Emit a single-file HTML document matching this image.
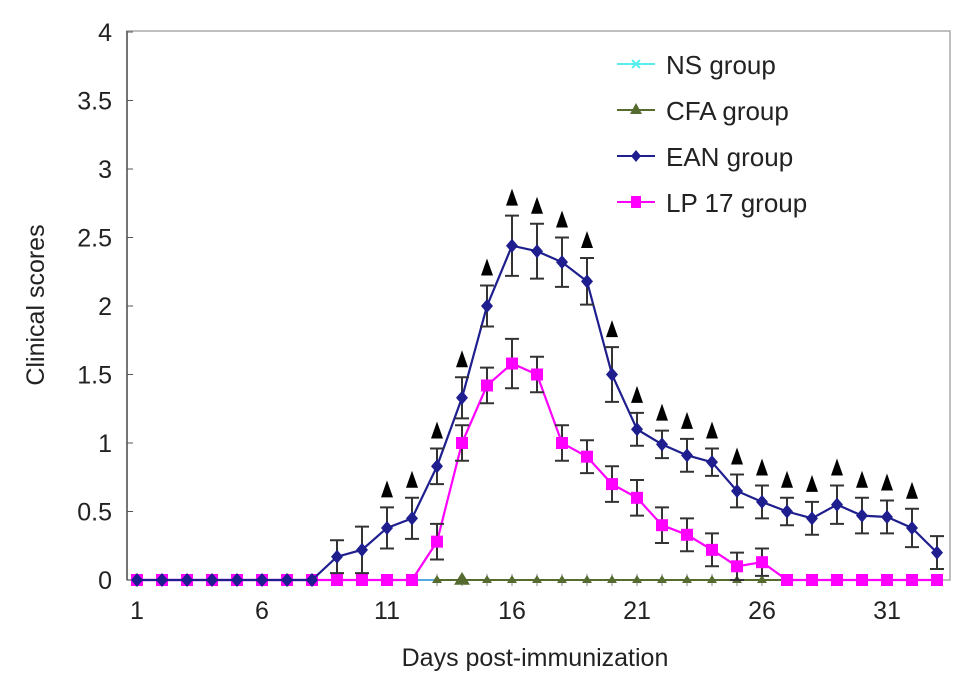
<!DOCTYPE html>
<html><head><meta charset="utf-8"><style>
body{margin:0;background:#fff}
svg{display:block;font-family:"Liberation Sans",Arial,sans-serif}
</style></head><body>
<svg id="chart" width="971" height="692" viewBox="0 0 971 692">
<g id="frame"></g><g id="marks"></g>
</svg>
<script>
const days=[1,2,3,4,5,6,7,8,9,10,11,12,13,14,15,16,17,18,19,20,21,22,23,24,25,26,27,28,29,30,31,32,33];
const eanVals=[0,0,0,0,0,0,0,0,0.17,0.22,0.38,0.45,0.83,1.33,2.0,2.44,2.4,2.32,2.18,1.5,1.1,0.99,0.91,0.86,0.65,0.57,0.5,0.45,0.55,0.47,0.46,0.38,0.2];
const eanErr=[0,0,0,0,0,0,0,0,0.12,0.17,0.15,0.15,0.13,0.15,0.15,0.22,0.2,0.18,0.17,0.2,0.12,0.1,0.12,0.1,0.12,0.12,0.1,0.12,0.14,0.13,0.12,0.14,0.12];
const lpVals=[0,0,0,0,0,0,0,0,0,0,0,0,0.28,1.0,1.42,1.58,1.5,1.0,0.9,0.7,0.6,0.4,0.33,0.22,0.1,0.13,0,0,0,0,0,0,0];
const lpErr=[0,0,0,0,0,0,0,0,0,0,0,0,0.13,0.13,0.13,0.18,0.13,0.13,0.12,0.13,0.13,0.13,0.12,0.12,0.1,0.1,0,0,0,0,0,0,0];
const sigDays=[11,12,13,14,15,16,17,18,19,20,21,22,23,24,25,26,27,28,29,30,31,32];
const yTicks=[0,0.5,1,1.5,2,2.5,3,3.5,4];
const xTicks=[1,6,11,16,21,26,31];
const xs=d=>137+(d-1)*25;
const ys=v=>580-v*137;
const NS="http://www.w3.org/2000/svg";
function mk(p,t,a){const e=document.createElementNS(NS,t);for(const k in a)e.setAttribute(k,a[k]);p.appendChild(e);return e;}
const F=document.getElementById('frame'),M=document.getElementById('marks');
let e;
e=mk(F,'rect',{x:127,y:31,width:823,height:549,fill:'none',stroke:'#aaa','stroke-width':1.5});

e=mk(F,'line',{x1:127,y1:31,x2:127,y2:580,stroke:'#555','stroke-width':1.5});

yTicks.forEach(t=>{
 e=mk(F,'line',{x1:127,x2:133,y1:ys(t),y2:ys(t),stroke:'#555'});
 
 e=mk(F,'text',{x:112,y:ys(t)+9,'text-anchor':'end','font-size':25,fill:'#222'});e.textContent=String(t);
 
});
days.forEach(d=>{e=mk(F,'line',{x1:xs(d),x2:xs(d),y1:574,y2:586,stroke:'#888'});
 });
xTicks.forEach(t=>{e=mk(F,'text',{x:xs(t),y:619,'text-anchor':'middle','font-size':25,fill:'#222'});e.textContent=String(t);
 });
e=mk(F,'text',{x:535,y:666,'text-anchor':'middle','font-size':25,fill:'#222'});e.textContent='Days post-immunization';

e=mk(F,'text',{x:0,y:0,'text-anchor':'middle','font-size':25,fill:'#222',transform:'translate(44,305) rotate(-90)'});e.textContent='Clinical scores';

e=mk(M,'line',{x1:xs(1),x2:xs(33),y1:580,y2:580,stroke:'#5ad','stroke-width':2});

e=mk(M,'line',{x1:xs(13),x2:xs(33),y1:580,y2:580,stroke:'#556b2f','stroke-width':2});

days.forEach(d=>{if(d>=13){const x=xs(d);const s=d==14?8:5;e=mk(M,'polygon',{points:`${x-s},${580+s*0.6} ${x+s},${580+s*0.6} ${x},${580-s}`,fill:'#556b2f'});
 }});
function series(vals,errs,col,name,marker){
 e=mk(M,'polyline',{points:days.map((d,i)=>xs(d)+','+ys(vals[i])).join(' '),fill:'none',stroke:col,'stroke-width':2.2});
 
 days.forEach((d,i)=>{const x=xs(d),y=ys(vals[i]);
  if(errs[i]>0){const a=ys(vals[i]+errs[i]),b=ys(vals[i]-errs[i]);
   e=mk(M,'path',{d:`M${x},${a}V${b}M${x-7},${a}H${x+7}M${x-7},${b}H${x+7}`,stroke:'#333','stroke-width':2,fill:'none'});
   }
  if(marker=='d'){e=mk(M,'polygon',{points:`${x},${y-7} ${x+6},${y} ${x},${y+7} ${x-6},${y}`,fill:col});}
  else{e=mk(M,'rect',{x:x-6,y:y-6,width:12,height:12,fill:col});}
  
 });
}
series(lpVals,lpErr,'#f0f','lp17','s');
series(eanVals,eanErr,'#1e1e8e','ean','d');
sigDays.forEach(d=>{const i=days.indexOf(d);const x=xs(d),y=ys(eanVals[i]+eanErr[i])-10;
 e=mk(M,'polygon',{points:`${x-6},${y} ${x+6},${y} ${x},${y-17}`,fill:'#000'});
 });
const leg=[['NS group','#5ee','x'],['CFA group','#556b2f','t'],['EAN group','#1e1e8e','d'],['LP 17 group','#f0f','s']];
leg.forEach((l,i)=>{const y=64+i*46;const g=mk(M,'g',{});
 
 mk(g,'line',{x1:617,x2:655,y1:y,y2:y,stroke:l[1],'stroke-width':2});
 if(l[2]=='t')mk(g,'polygon',{points:`630,${y+4} 642,${y+4} 636,${y-7}`,fill:l[1]});
 if(l[2]=='d')mk(g,'polygon',{points:`636,${y-6} 641,${y} 636,${y+6} 631,${y}`,fill:l[1]});
 if(l[2]=='s')mk(g,'rect',{x:631,y:y-6,width:10,height:12,fill:l[1]});
 if(l[2]=='x')mk(g,'path',{d:`M632,${y-4}L640,${y+4}M632,${y+4}L640,${y-4}`,stroke:l[1],'stroke-width':2});
 const t=mk(g,'text',{x:666,y:y+10,'font-size':26,fill:'#222'});t.textContent=l[0];});
</script>
</body></html>
